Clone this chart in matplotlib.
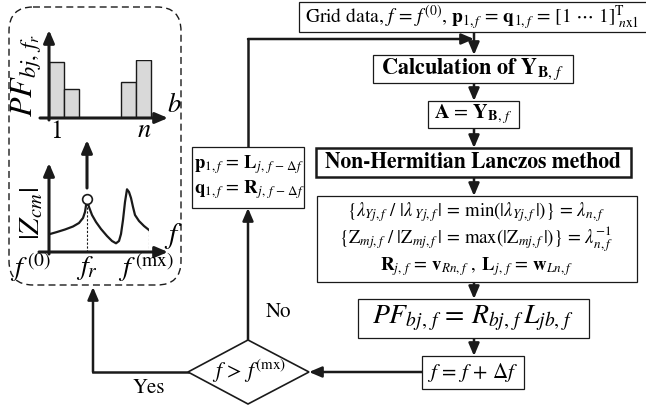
import numpy as np
import matplotlib
matplotlib.use("Agg")
import matplotlib.pyplot as plt
from matplotlib.patches import Rectangle, FancyBboxPatch, Polygon

plt.rcParams['mathtext.fontset'] = 'stix'
plt.rcParams['font.family'] = ['STIXGeneral', 'DejaVu Serif']

# left panel data: participation factors per bus
bar_x = [0.5, 1.5, 5.3, 6.3]
bar_h = [0.97, 0.50, 0.62, 1.00]
# |Zcm| vs frequency sketch (f in 0..100, Z in 0..70)
curve_f = [0, 8, 16, 24, 30, 34, 36, 38, 40, 43, 47, 52, 58, 63, 67, 70, 72, 74, 76, 78, 80, 82, 84, 86, 90, 95, 100]
curve_z = [17.7, 20, 22.5, 25.5, 29, 34, 40, 53, 45, 37, 30, 23, 16, 11, 8.7, 11, 18, 32, 50, 62.7, 60, 54, 45, 37, 31, 26, 22]
peak_i = 7

# flowchart texts
txt_grid = r'Grid data, $f\,=\,f^{(0)}$, $\mathbf{p}_{1,f}\,=\,\mathbf{q}_{1,f}\,=\,[1\ \cdots\ 1]^{\mathrm{T}}_{\ n\mathrm{x}1}$'
txt_calc = r'Calculation of $\mathbf{Y}_{\mathbf{B},\,f}$'
txt_a = r'$\mathbf{A}\,=\,\mathbf{Y}_{\mathbf{B},\,f}$'
txt_nh = 'Non-Hermitian Lanczos method'
txt_eig = [r'$\{\lambda_{Yj,f}\ /\ |\lambda_{\ Yj,f}\,|\,=\,\mathrm{min}(|\lambda_{Yj,f}\,|)\}\,=\,\lambda_{n,f}$',
           r'$\{\mathrm{Z}_{mj,f}\ /\ |\mathrm{Z}_{mj,f}\,|\,=\,\mathrm{max}(|\mathrm{Z}_{mj,f}\,|)\}\,=\,\lambda_{n,f}^{-1}$',
           r'$\mathbf{R}_{j,\,f}\,=\,\mathbf{v}_{Rn,f}\ ,\ \mathbf{L}_{j,\,f}\,=\,\mathbf{w}_{Ln,f}$']
txt_pf = r'$PF_{bj,\,f}\,=\,R_{bj,\,f}\,L_{jb,\,f}$'
txt_inc = r'$f\,=\,f\,+\,\Delta f$'
txt_cond = r'$f\,>\,f^{(\mathrm{mx})}$'
txt_pq = [r'$\mathbf{p}_{1,f}\,=\,\mathbf{L}_{j,\,f\,-\,\Delta f}$',
          r'$\mathbf{q}_{1,f}\,=\,\mathbf{R}_{j,\,f\,-\,\Delta f}$']

W, H = 646, 408
fig = plt.figure(figsize=(W / 100, H / 100), dpi=100)
ax = fig.add_axes([0, 0, 1, 1])
ax.set_xlim(0, W)
ax.set_ylim(H, 0)
ax.axis('off')
ax.set_zorder(2)

K = '#1a1a1a'


def box(x0, y0, x1, y1, lw=0.9):
    ax.add_patch(Rectangle((x0, y0), x1 - x0, y1 - y0, fc='white', ec=K, lw=lw, zorder=3))


def arrow(pts, lw=1.8, hl=0.75, hw=0.32):
    pts = np.array(pts, dtype=float)
    if len(pts) > 2:
        ax.plot(pts[:-1, 0], pts[:-1, 1], color=K, lw=lw, solid_capstyle='projecting', zorder=2)
    ax.annotate('', xy=pts[-1], xytext=pts[-2],
                arrowprops=dict(arrowstyle='-|>,head_length=%g,head_width=%g' % (hl, hw),
                                color=K, lw=lw, shrinkA=0, shrinkB=0), zorder=2)


# boxes
box(299, 2, 648, 32)
ax.text(472, 17, txt_grid, ha='center', va='center', fontsize=14, zorder=4)

box(373, 55, 573, 83)
ax.text(473, 69, txt_calc, ha='center', va='center', fontsize=16, fontweight='bold', zorder=4)

box(428, 101, 519, 128)
ax.text(473, 114, txt_a, ha='center', va='center', fontsize=14.5, zorder=4)

box(316, 148, 631, 177, lw=1.8)
ax.text(473, 162, txt_nh, ha='center', va='center', fontsize=15.5, fontweight='bold', zorder=4)

box(317, 196, 637, 282)
ax.text(476, 239, '\n'.join(txt_eig), ha='center', va='center', ma='center',
        fontsize=13.5, linespacing=1.05, zorder=4)

box(358, 299, 589, 338)
ax.text(473, 318, txt_pf, ha='center', va='center', fontsize=20, zorder=4)

box(422, 356, 524, 389)
ax.text(473, 372, txt_inc, ha='center', va='center', fontsize=15, zorder=4)

ax.add_patch(Polygon([(188, 372), (248, 340), (309, 372), (248, 404)], closed=True,
                     fc='white', ec=K, lw=1.2, zorder=3))
ax.text(249, 371, txt_cond, ha='center', va='center', fontsize=15.5, zorder=4)

box(192, 147, 304, 208)
ax.text(249, 165, txt_pq[0], ha='center', va='center', fontsize=13.5, zorder=4)
ax.text(249, 190, txt_pq[1], ha='center', va='center', fontsize=13.5, zorder=4)

ax.text(279, 312, 'No', ha='center', va='center', fontsize=15)
ax.text(149, 388, 'Yes', ha='center', va='center', fontsize=15)

# flow arrows
arrow([(474, 32), (474, 55)])
arrow([(248, 147), (248, 39), (474, 39)])
arrow([(474, 83), (474, 101)])
arrow([(474, 128), (474, 148)])
arrow([(474, 177), (474, 196)])
arrow([(474, 282), (474, 299)])
arrow([(474, 338), (474, 356)])
arrow([(422, 372), (309, 372)])
arrow([(248, 340), (248, 208)])
arrow([(188, 372), (93, 372), (93, 287)])

# dashed panel
ax.add_patch(FancyBboxPatch((9, 7), 172, 278, boxstyle='round,pad=0,rounding_size=24',
                            fc='none', ec=K, lw=1.0, ls=(0, (5, 3)), zorder=1))

# bar chart inset
ax_b = fig.add_axes([49 / W, (H - 118) / H, 120 / W, 58 / H])
ax_b.set_xlim(0, 8)
ax_b.set_ylim(0, 1)
ax_b.axis('off')
ax_b.bar(bar_x, bar_h, width=1, color='#d9d9d9', edgecolor=K, lw=1.0)

arrow([(49, 120), (49, 30)], lw=2.2)
arrow([(40, 118), (168, 118)], lw=2.2)
ax.text(27, 76, r'$PF_{bj,\,f_r}$', rotation=90, ha='center', va='center', fontsize=23)
ax.text(56, 132, '1', ha='center', va='center', fontsize=18)
ax.text(144, 131, r'$n$', ha='center', va='center', fontsize=19)
ax.text(174, 106, r'$b$', ha='center', va='center', fontsize=19)

arrow([(87, 188), (87, 140)], lw=2.2)

# impedance curve inset
ax_z = fig.add_axes([49 / W, (H - 252) / H, 100 / W, 70 / H])
ax_z.set_xlim(0, 100)
ax_z.set_ylim(0, 70)
ax_z.axis('off')
ax_z.plot(curve_f, curve_z, color=K, lw=1.6)
ax_z.plot([curve_f[peak_i]] * 2, [0, curve_z[peak_i]], color=K, lw=0.8, ls=(0, (2, 1.5)))
ax_z.plot([curve_f[-1]] * 2, [0, curve_z[-1]], color=K, lw=0.8, ls=(0, (2, 1.5)))
ax_z.plot(curve_f[peak_i], curve_z[peak_i], 'o', ms=7, mfc='white', mec=K, mew=1.2, clip_on=False)

arrow([(49, 254), (49, 163)], lw=2.2)
arrow([(39, 252), (168, 252)], lw=2.2)
ax.text(32, 214, r'$|Z_{cm}|$', rotation=90, ha='center', va='center', fontsize=21)
ax.text(173, 236, r'$f$', ha='center', va='center', fontsize=21)
ax.text(30, 267, r'$f^{\,(0)}$', ha='center', va='center', fontsize=20)
ax.text(87, 268, r'$f_r$', ha='center', va='center', fontsize=20)
ax.text(146, 267, r'$f^{\,(\mathrm{mx})}$', ha='center', va='center', fontsize=20)

fig.savefig('out.png', dpi=100)
